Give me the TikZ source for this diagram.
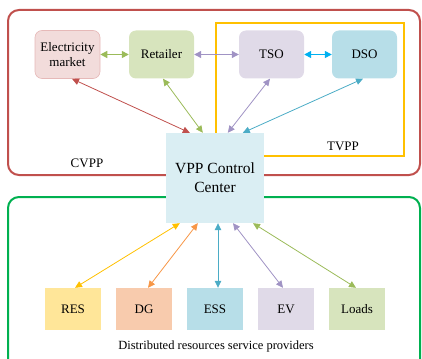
\documentclass[tikz,border=0pt]{standalone}
\usepackage{fontspec}
\setmainfont{Liberation Serif}
\usetikzlibrary{arrows.meta}

\definecolor{cvppred}{HTML}{C0504D}
\definecolor{dsrgreen}{HTML}{00B050}
\definecolor{tvppyellow}{HTML}{FFC000}
\definecolor{emfill}{HTML}{F2DCDB}
\definecolor{emdraw}{HTML}{E6B9B8}
\definecolor{olivefill}{HTML}{D7E4BD}
\definecolor{lilacfill}{HTML}{E0DAE8}
\definecolor{aquafill}{HTML}{B7DEE8}
\definecolor{vppfill}{HTML}{DAEEF3}
\definecolor{resfill}{HTML}{FFE699}
\definecolor{dgfill}{HTML}{F8CBAD}
\definecolor{arrgreen}{HTML}{9BBB59}
\definecolor{arrpurple}{HTML}{A093C4}
\definecolor{arrcyan}{HTML}{00B0F0}
\definecolor{arrteal}{HTML}{4BACC6}
\definecolor{arrorange}{HTML}{F79646}

\tikzset{
  actor/.style={rounded corners=7pt, minimum width=65pt, minimum height=48pt,
    align=center, font=\fontsize{13}{15}\selectfont, inner sep=1pt},
  provider/.style={minimum width=56pt, minimum height=42pt,
    font=\fontsize{13}{15}\selectfont, inner sep=1pt},
  frame/.style={line width=2pt, rounded corners=11pt},
  link/.style={{Triangle[length=7pt,width=6.5pt]}-{Triangle[length=7pt,width=6.5pt]}, line width=0.8pt},
  hlink/.style={{Triangle[length=7pt,width=7pt]}-{Triangle[length=7pt,width=7pt]}, line width=1.4pt},
  tag/.style={font=\fontsize{13}{15}\selectfont}
}

\begin{document}
\begin{tikzpicture}[x=1pt,y=-1pt]
\clip (0,0) rectangle (422,358);

% outer frames
\draw[frame, cvppred] (8,10) rectangle (420,175);
\draw[frame, dsrgreen] (8,197) rectangle (420,380);
\draw[line width=2pt, tvppyellow] (216,23) rectangle (404,156);

% market-side actors
\node[actor, fill=emfill, draw=emdraw, line width=0.6pt] (em) at (67.5,54.5) {Electricity\\market};
\node[actor, fill=olivefill] (ret) at (161.5,54.5) {Retailer};
\node[actor, fill=lilacfill] (tso) at (271.5,54.5) {TSO};
\node[actor, fill=aquafill] (dso) at (364.5,54.5) {DSO};

% control centre
\node[fill=vppfill, minimum width=98pt, minimum height=90pt, align=center,
      font=\fontsize{15.5}{19}\selectfont, inner sep=0pt] (vpp) at (215,178) {VPP Control\\Center};

% distributed resources
\node[provider, fill=resfill] (res) at (73,309) {RES};
\node[provider, fill=dgfill] (dg) at (144,309) {DG};
\node[provider, fill=aquafill] (ess) at (215,309) {ESS};
\node[provider, fill=lilacfill] (ev) at (286,309) {EV};
\node[provider, fill=olivefill] (loads) at (357,309) {Loads};

% labels
\node[tag] (cvpp) at (87,163) {CVPP};
\node[tag] (tvpp) at (343,146) {TVPP};
\node[font=\fontsize{12.5}{15}\selectfont] (dsp) at (216,346) {Distributed resources service providers};

% links between actors
\draw[hlink, arrgreen] (em.east) -- (ret.west);
\draw[hlink, arrpurple, line width=1.1pt] (ret.east) -- (tso.west);
\draw[hlink, arrcyan] (tso.east) -- (dso.west);

% links to the control centre
\draw[link, cvppred] ([xshift=4.5pt]em.south) -- ([xshift=24pt]vpp.north west);
\draw[link, arrgreen] ([xshift=1.5pt]ret.south) -- ([xshift=37pt]vpp.north west);
\draw[link, arrpurple] ([xshift=-1.5pt]tso.south) -- ([xshift=62pt]vpp.north west);
\draw[link, arrteal] ([xshift=-1.5pt]dso.south) -- ([xshift=77pt]vpp.north west);

\draw[link, tvppyellow] ([xshift=14pt]vpp.south west) -- ([xshift=2pt]res.north);
\draw[link, arrorange] ([xshift=32pt]vpp.south west) -- ([xshift=4pt]dg.north);
\draw[link, arrteal] ([xshift=3pt]vpp.south) -- ([xshift=3pt]ess.north);
\draw[link, arrpurple] ([xshift=18pt]vpp.south) -- ([xshift=-3pt]ev.north);
\draw[link, arrgreen] ([xshift=38pt]vpp.south) -- ([xshift=-1pt]loads.north);
\end{tikzpicture}
\end{document}
